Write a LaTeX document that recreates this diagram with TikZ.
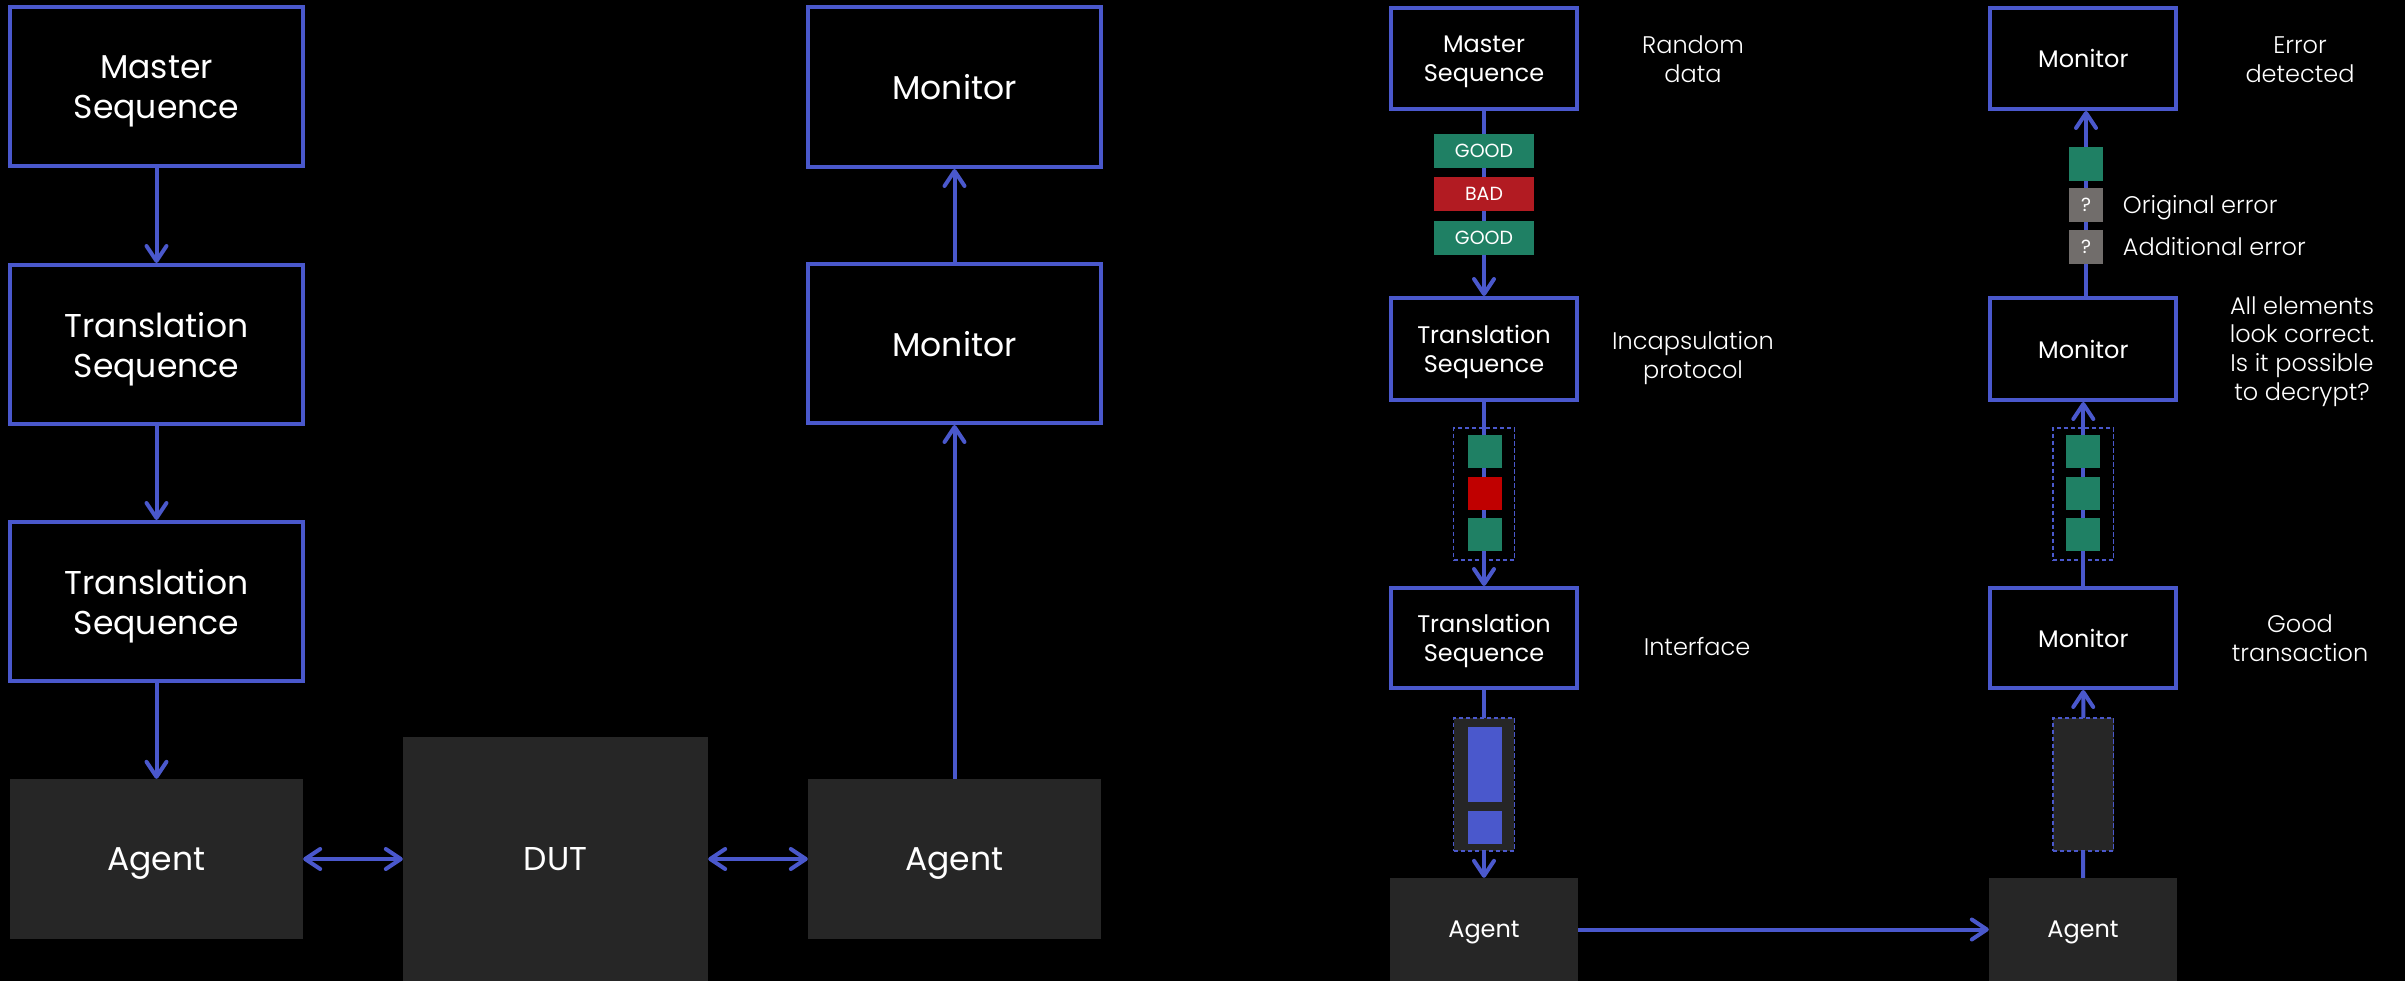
\documentclass[tikz,border=0pt]{standalone}
\usepackage{fontspec}
\setmainfont{Poppins}
\IfFontExistsTF{Poppins Light}
  {\newfontfamily\notefont{Poppins Light}}
  {\newfontfamily\notefont{Poppins}}
\usetikzlibrary{arrows.meta}

\definecolor{blu}{RGB}{74,88,204}
\definecolor{grn}{RGB}{31,128,100}
\definecolor{badred}{RGB}{178,27,34}
\definecolor{sqred}{RGB}{192,0,0}
\definecolor{gry}{RGB}{113,109,107}
\definecolor{dk}{RGB}{38,38,38}

\pgfdeclarelayer{back}
\pgfsetlayers{back,main}

\tikzset{
  barb/.tip={Straight Barb[length=15pt,width=20pt,line cap=round,line join=round]},
  bigbox/.style={draw=blu, line width=4pt, fill=black, text=white, align=center,
    inner sep=0pt, text depth=0pt, font=\fontsize{33}{40}\selectfont,
    minimum width=293pt, minimum height=159pt},
  bigagent/.style={fill=dk, text=white, inner sep=0pt, text depth=0pt,
    font=\fontsize{33}{40}\selectfont, minimum width=293pt, minimum height=160pt},
  smallbox/.style={draw=blu, line width=4pt, fill=black, text=white, align=center,
    inner sep=0pt, text depth=0pt, font=\fontsize{24}{28.5}\selectfont,
    minimum width=186pt, minimum height=101pt},
  smallagent/.style={fill=dk, text=white, inner sep=0pt, text depth=0pt,
    font=\fontsize{24}{28.5}\selectfont, minimum width=188pt, minimum height=103pt},
  tag/.style={text=white, inner sep=0pt, minimum width=100pt, minimum height=33.7pt,
    font=\fontsize{19}{19}\selectfont},
  sq/.style={inner sep=0pt, minimum width=33.6pt, minimum height=33.5pt},
  dbox/.style={draw=blu, line width=1.5pt, dash pattern=on 4.5pt off 2.5pt,
    inner sep=0pt, minimum width=60.7pt, minimum height=132pt},
  note/.style={text=white, align=center, inner sep=0pt,
    font=\notefont\fontsize{24}{28.6}\selectfont},
  wire/.style={draw=blu, line width=4pt},
  arr/.style={wire, -barb},
  darr/.style={wire, barb-barb}
}

\begin{document}
\begin{tikzpicture}[x=1pt,y=-1pt]
\useasboundingbox (0,0) rectangle (2405,981);

% ---------- testbench: sequences, agents, DUT, monitors ----------
\node[bigbox] (msL)  at (156.5,87)    {Master\\Sequence};
\node[bigbox] (ts1L) at (156.5,344.5) {Translation\\Sequence};
\node[bigbox] (ts2L) at (156.5,601.5) {Translation\\Sequence};
\node[bigagent] (agL) at (156.5,859)  {Agent};
\node[fill=dk, text=white, inner sep=0pt, text depth=0pt,
      font=\fontsize{33}{40}\selectfont,
      minimum width=305pt, minimum height=244pt] (dut) at (555.5,859) {DUT};
\node[bigagent] (agR) at (954.5,859)  {Agent};
\node[bigbox, minimum height=160pt] (mon1) at (954.5,87) {Monitor};
\node[bigbox] (mon2) at (954.5,343.5) {Monitor};

% ---------- stimulus path ----------
\node[smallbox] (msR)  at (1484,58.5) {Master\\Sequence};
\node[tag, fill=grn]    (g1) at (1484,150.9) {GOOD};
\node[tag, fill=badred] (b1) at (1484,193.9) {BAD};
\node[tag, fill=grn]    (g2) at (1484,237.9) {GOOD};
\node[smallbox, minimum height=102pt] (tsR1) at (1484,349) {Translation\\Sequence};
\node[dbox] (enc) at (1484,494) {};
\node[sq, fill=grn]   (e1) at (1484.7,451.5) {};
\node[sq, fill=sqred] (e2) at (1484.7,493.5) {};
\node[sq, fill=grn]   (e3) at (1484.7,534.5) {};
\node[smallbox, minimum height=100pt] (tsR2) at (1484,638) {Translation\\Sequence};
\node[dbox, fill=dk, minimum height=133pt] (ifc) at (1484,784.5) {};
\node[sq, fill=blu, minimum height=75pt] (p1) at (1484.7,764.5) {};
\node[sq, fill=blu] (p2) at (1484.7,827.7) {};
\node[smallagent] (agS) at (1484,929.5) {Agent};

\node[note] (nRand) at (1693,59.5) {Random\\data};
\node[note] (nEnc)  at (1693,358)  {Incapsulation\\protocol};
\node[note, anchor=base] (nIfc) at (1697,655) {Interface};

% ---------- monitor path ----------
\node[smallagent] (agM) at (2083,929.5) {Agent};
\node[dbox, fill=dk, minimum height=133pt] (rx) at (2083.2,784.5) {};
\node[smallbox, minimum height=100pt] (monR3) at (2083.3,638) {Monitor};
\node[dbox] (dec) at (2083.2,494) {};
\node[sq, fill=grn] (d1) at (2083,451.5) {};
\node[sq, fill=grn] (d2) at (2083,493.5) {};
\node[sq, fill=grn] (d3) at (2083,534.5) {};
\node[smallbox, minimum height=102pt] (monR2) at (2083.3,349) {Monitor};
\node[sq, fill=grn, minimum height=33.7pt] (q0) at (2086,163.9) {};
\node[sq, fill=gry, minimum height=33.7pt, text=white,
      font=\fontsize{19}{19}\selectfont] (q1) at (2086,204.9) {?};
\node[sq, fill=gry, minimum height=33.7pt, text=white,
      font=\fontsize{19}{19}\selectfont] (q2) at (2086,246.9) {?};
\node[smallbox] (monR1) at (2083.3,58.5) {Monitor};

\node[note] (nErr)  at (2300,59.6)  {Error\\detected};
\node[note, anchor=base west] (nOrig) at (2122.7,214) {Original error};
\node[note, anchor=base west] (nAdd)  at (2122.7,256) {Additional error};
\node[note] (nAll)  at (2302,351.5) {All elements\\look correct.\\Is it possible\\to decrypt?};
\node[note] (nGood) at (2300,638.5) {Good\\transaction};

% ---------- connectors, drawn beneath the boxes ----------
\begin{pgfonlayer}{back}
  \fill[black] (0,0) rectangle (2405,981);
  \draw[arr] (msL) -- (ts1L);
  \draw[arr] (ts1L) -- (ts2L);
  \draw[arr] (ts2L) -- (agL);
  \draw[darr] (agL) -- (dut);
  \draw[darr] (dut) -- (agR);
  \draw[arr] (agR) -- (mon2);
  \draw[arr] (mon2) -- (mon1);

  \draw[arr] (msR) -- (tsR1);
  \draw[arr] (tsR1) -- (tsR2);
  \draw[arr] (tsR2) -- (agS);
  \draw[arr] (agS) -- (agM);
  \draw[arr] (agM) -- (monR3);
  \draw[arr] (monR3) -- (monR2);
  \draw[arr] (q0 |- monR2.north) -- (q0 |- monR1.south);
\end{pgfonlayer}
\end{tikzpicture}
\end{document}
